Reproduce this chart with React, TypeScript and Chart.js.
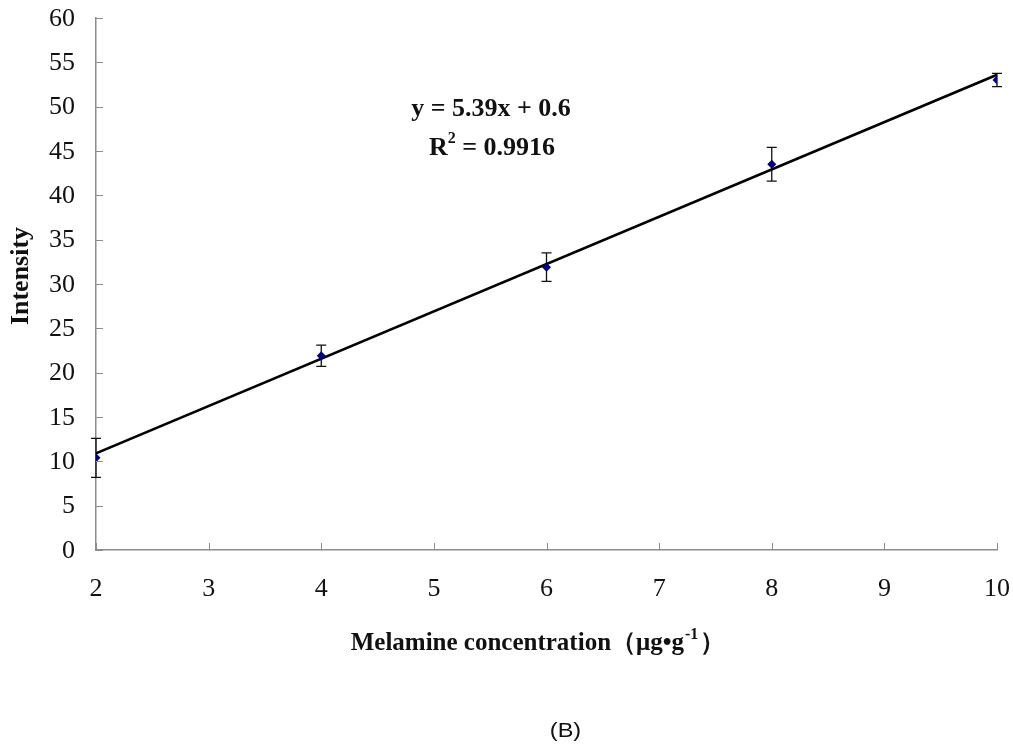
import React, { useEffect, useRef } from "react";
import { Chart, registerables } from "chart.js";

Chart.register(...registerables);

const xTicks = [2, 3, 4, 5, 6, 7, 8, 9, 10];
const yTicks = [0, 5, 10, 15, 20, 25, 30, 35, 40, 45, 50, 55, 60];
const concentrations = [2, 4, 6, 8, 10];
const intensities = [10.4, 21.9, 31.9, 43.5, 53.0];
const errors = [2.2, 1.2, 1.6, 1.9, 0.75];
const trendX = [2, 10];
const trendY = [10.9, 53.6];
const equationText = "y = 5.39x + 0.6";
const r2Value = "0.9916";
const xTitle = "Melamine concentration（μg•g";
const yTitle = "Intensity";
const panelLabel = "(B)";

const AXIS_COLOR = "#8c8c8c";
const SERIF = '"Liberation Serif", "Times New Roman", serif';

const decorPlugin = {
  id: "decor",
  beforeDatasetsDraw(chart: any) {
    const ctx = chart.ctx;
    const xs = chart.scales.x;
    const ys = chart.scales.y;
    ctx.save();
    ctx.strokeStyle = "#111";
    ctx.lineWidth = 1.3;
    concentrations.forEach((c, i) => {
      const px = xs.getPixelForValue(c);
      const top = ys.getPixelForValue(intensities[i] + errors[i]);
      const bot = ys.getPixelForValue(intensities[i] - errors[i]);
      ctx.beginPath();
      ctx.moveTo(px, top);
      ctx.lineTo(px, bot);
      ctx.moveTo(px - 5, top);
      ctx.lineTo(px + 5, top);
      ctx.moveTo(px - 5, bot);
      ctx.lineTo(px + 5, bot);
      ctx.stroke();
    });
    ctx.restore();
  },
  afterDraw(chart: any) {
    const ctx = chart.ctx;
    const xs = chart.scales.x;
    const ys = chart.scales.y;
    const area = chart.chartArea;
    ctx.save();
    // inward tick marks
    ctx.strokeStyle = AXIS_COLOR;
    ctx.lineWidth = 1;
    ctx.beginPath();
    yTicks.forEach((t) => {
      const py = Math.round(ys.getPixelForValue(t)) + 0.5;
      ctx.moveTo(area.left, py);
      ctx.lineTo(area.left + 7, py);
    });
    xTicks.forEach((t) => {
      const px = Math.round(xs.getPixelForValue(t)) + 0.5;
      ctx.moveTo(px, area.bottom);
      ctx.lineTo(px, area.bottom - 7);
    });
    ctx.stroke();

    // tick labels
    ctx.fillStyle = "#111";
    ctx.font = `26px ${SERIF}`;
    ctx.textAlign = "right";
    ctx.textBaseline = "middle";
    yTicks.forEach((t) => {
      ctx.fillText(String(t), area.left - 21, ys.getPixelForValue(t) + 1);
    });
    ctx.textAlign = "center";
    xTicks.forEach((t) => {
      ctx.fillText(String(t), xs.getPixelForValue(t), area.bottom + 39);
    });

    // y title
    ctx.save();
    ctx.translate(21, 276);
    ctx.rotate(-Math.PI / 2);
    ctx.font = `bold 26px ${SERIF}`;
    ctx.textAlign = "center";
    ctx.textBaseline = "middle";
    ctx.fillText(yTitle, 0, 0);
    ctx.restore();

    // x title with superscript
    ctx.textBaseline = "alphabetic";
    ctx.textAlign = "left";
    const mainFont = `bold 25px ${SERIF}`;
    const supFont = `bold 16px ${SERIF}`;
    ctx.font = mainFont;
    const w1 = ctx.measureText(xTitle).width;
    ctx.font = supFont;
    const w2 = ctx.measureText("-1").width + 3;
    ctx.font = mainFont;
    const w3 = ctx.measureText("）").width;
    const total = w1 + w2 + w3;
    let sx = 538 - total / 2;
    const base = 650;
    ctx.fillText(xTitle, sx, base);
    sx += w1;
    ctx.font = supFont;
    ctx.fillText("-1", sx + 1, base - 11);
    sx += w2;
    ctx.font = mainFont;
    ctx.fillText("）", sx, base);

    // equation
    ctx.font = `bold 26px ${SERIF}`;
    ctx.textAlign = "center";
    ctx.fillText(equationText, 491, 116);
    ctx.textAlign = "left";
    const rPart = "R";
    const rest = " = " + r2Value;
    const wr = ctx.measureText(rPart).width;
    const wrest = ctx.measureText(rest).width;
    ctx.font = `bold 16px ${SERIF}`;
    const ws = ctx.measureText("2").width;
    let ex = 492 - (wr + ws + wrest) / 2;
    ctx.font = `bold 26px ${SERIF}`;
    ctx.fillText(rPart, ex, 155);
    ex += wr;
    ctx.font = `bold 16px ${SERIF}`;
    ctx.fillText("2", ex, 143);
    ex += ws;
    ctx.font = `bold 26px ${SERIF}`;
    ctx.fillText(rest, ex, 155);

    // panel label
    ctx.save();
    ctx.translate(565.5, 731);
    ctx.scale(1.12, 1);
    ctx.font = '21px "Liberation Sans", Arial, sans-serif';
    ctx.textAlign = "center";
    ctx.textBaseline = "middle";
    ctx.fillText(panelLabel, 0, 0);
    ctx.restore();
    ctx.restore();
  },
};

export default function App() {
  const ref = useRef<HTMLCanvasElement | null>(null);
  useEffect(() => {
    if (!ref.current) return;
    const chart = new Chart(ref.current, {
      type: "scatter",
      data: {
        datasets: [
          {
            type: "scatter",
            label: "Intensity",
            data: concentrations.map((c, i) => ({ x: c, y: intensities[i] })),
            pointStyle: "rectRot",
            pointRadius: 4.5,
            backgroundColor: "#000080",
            borderColor: "#000080",
            borderWidth: 0,
          },
          {
            type: "line",
            label: "Trend",
            data: trendX.map((x, i) => ({ x, y: trendY[i] })),
            borderColor: "#000",
            borderWidth: 2.6,
            pointRadius: 0,
            fill: false,
            showLine: true,
          } as any,
        ],
      },
      options: {
        animation: false,
        responsive: true,
        maintainAspectRatio: false,
        layout: { padding: { top: 18, right: 16, left: 0, bottom: 0 } },
        plugins: {
          legend: { display: false },
          tooltip: { enabled: false },
          title: { display: false },
        },
        scales: {
          x: {
            type: "linear",
            min: 2,
            max: 10,
            ticks: { display: false },
            grid: { display: false, drawTicks: false },
            border: { display: true, color: AXIS_COLOR, width: 1.5 },
            afterFit: (s: any) => {
              s.height = 194;
            },
          },
          y: {
            type: "linear",
            min: 0,
            max: 60,
            ticks: { display: false },
            grid: { display: false, drawTicks: false },
            border: { display: true, color: AXIS_COLOR, width: 1.5 },
            afterFit: (s: any) => {
              s.width = 96;
            },
          },
        },
      },
      plugins: [decorPlugin],
    });
    return () => chart.destroy();
  }, []);
  return (
    <div style={{ position: "absolute", left: 0, top: 0, width: 1013, height: 744, background: "#fff" }}>
      <canvas ref={ref} />
    </div>
  );
}
